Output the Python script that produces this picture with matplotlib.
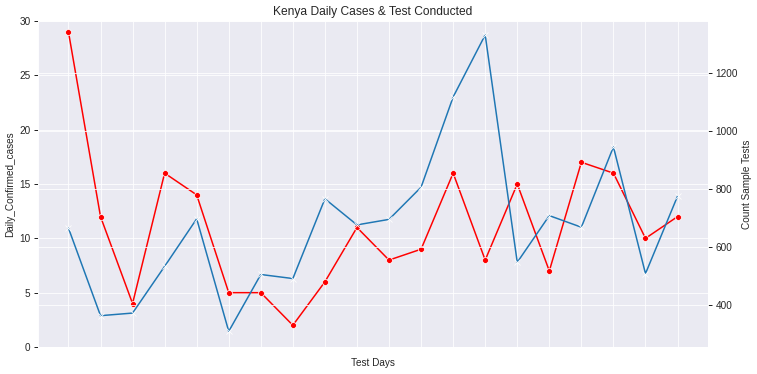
import matplotlib
matplotlib.use("Agg")
import matplotlib.pyplot as plt
import seaborn as sns

sns.set_style("darkgrid")
plt.rcParams['font.family'] = ['Liberation Sans', 'DejaVu Sans']

days = list(range(20))
daily_cases = [29, 12, 4, 16, 14, 5, 5, 2, 6, 11, 8, 9, 16, 8, 15, 7, 17, 16, 10, 12]
sample_tests = [664, 362, 371, 532, 696, 308, 504, 490, 765, 675,
                694, 805, 1116, 1330, 546, 707, 667, 944, 507, 774]

fig = plt.figure(figsize=(757 / 72, 374 / 72), dpi=72)
ax = fig.add_axes([38 / 757, 1 - 347 / 374, (708 - 38) / 757, (347 - 21) / 374])

ax.plot(days, daily_cases, color='red', marker='o', markersize=6,
        markeredgecolor='white', markeredgewidth=0.75, linewidth=1.5)
ax.set_ylim(0, 30)
ax.set_xticks(days)
ax.set_xticklabels([])
ax.set_xlabel("Test Days", fontsize=10)
ax.set_ylabel("Daily_Confirmed_cases", fontsize=10)
ax.set_title("Kenya Daily Cases & Test Conducted", fontsize=12)
ax.tick_params(axis='y', labelsize=10)

ax2 = ax.twinx()
ax2.plot(days, sample_tests, color='#1f77b4', marker='x', markersize=6,
         markeredgecolor='white', markeredgewidth=0.75, linewidth=1.5)
ax2.set_ylabel("Count Sample Tests", fontsize=10)
ax2.tick_params(axis='y', labelsize=10, length=4, width=1, color='#262626')
ax2.set_yticks([400, 600, 800, 1000, 1200])
ax2.set_ylim(254, 1378)
ax2.grid(True, color='white')
ax.tick_params(axis='y', length=4, width=1, color='#262626', left=True)

fig.savefig("out.png", dpi=72)
